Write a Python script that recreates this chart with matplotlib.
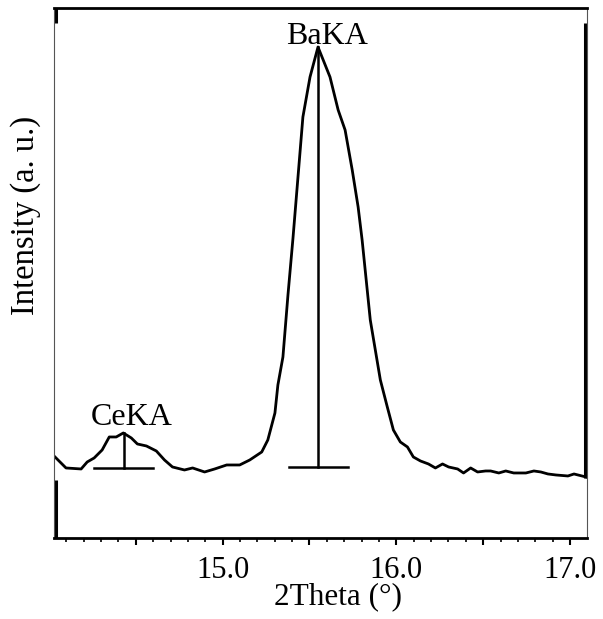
import matplotlib
matplotlib.use("Agg")
import matplotlib.pyplot as plt
from matplotlib.ticker import MultipleLocator, FuncFormatter

plt.rcParams['font.family'] = ['Liberation Serif', 'DejaVu Serif']

# XRF scan: intensity vs 2Theta
two_theta = [14.029, 14.098, 14.185, 14.220, 14.260, 14.306, 14.347, 14.387, 14.428,
             14.474, 14.509, 14.561, 14.618, 14.665, 14.711, 14.780, 14.827, 14.896,
             14.954, 15.023, 15.098, 15.156, 15.225, 15.260, 15.301, 15.318, 15.347,
             15.376, 15.405, 15.462, 15.503, 15.549, 15.618, 15.665, 15.705, 15.746,
             15.780, 15.803, 15.850, 15.908, 15.948, 15.983, 16.023, 16.064, 16.098,
             16.139, 16.185, 16.225, 16.266, 16.301, 16.353, 16.387, 16.428, 16.468,
             16.514, 16.543, 16.590, 16.630, 16.676, 16.746, 16.792, 16.832, 16.873,
             16.919, 16.988, 17.023, 17.092]
intensity = [82, 70, 69, 76, 80, 88, 101, 101, 105,
             100, 94, 92, 87, 78, 71, 68, 70, 66,
             69, 73, 73, 78, 86, 98, 125, 153, 181,
             243, 300, 421, 461, 491, 461, 428, 408, 368,
             331, 298, 218, 158, 131, 108, 96, 91, 81,
             77, 74, 70, 74, 71, 69, 65, 70, 66,
             67, 67, 65, 67, 65, 65, 67, 66, 64,
             63, 62, 64, 61]

# Identified lines: position, peak height, baseline level
line_names = ["CeKA", "BaKA"]
line_pos = [14.43, 15.55]
line_top = [105, 491]
line_base = [70, 71]
line_halfwidth = [0.17, 0.17]

fig = plt.figure(figsize=(6.03, 6.19), dpi=100)
ax = fig.add_axes([0.0896, 0.1309, 0.8839, 0.8562])

ax.plot(two_theta, intensity, color='black', lw=2.0, solid_joinstyle='round')

for name, x, top, base, hw in zip(line_names, line_pos, line_top, line_base, line_halfwidth):
    ax.plot([x, x], [base, top], color='black', lw=1.8)
    ax.plot([x - hw, x + hw], [base, base], color='black', lw=1.8)
    ax.annotate(name, xy=(x, top), xytext=(6, 6 if name == "CeKA" else 2),
                textcoords='offset points', ha='center', va='baseline', fontsize=23)

ax.set_xlim(14.029, 17.098)
ax.set_ylim(0, 530)

ax.xaxis.set_major_locator(MultipleLocator(0.5))
ax.xaxis.set_minor_locator(MultipleLocator(0.1))
ax.xaxis.set_major_formatter(FuncFormatter(lambda v, p: f"{v:.1f}" if abs(v - round(v)) < 1e-6 else ""))
ax.tick_params(axis='x', which='major', direction='out', length=5, width=1.5, labelsize=22, pad=8)
ax.tick_params(axis='x', which='minor', direction='out', length=3, width=1.2)
ax.set_yticks([])

ax.set_xlabel("2Theta (°)", fontsize=22.5)
ax.xaxis.set_label_coords(0.533, -0.083)
ax.set_ylabel("Intensity (a. u.)", fontsize=23.5)
ax.yaxis.set_label_coords(-0.025, 0.609)

# frame: thin outer box with heavier segments
for side in ['left', 'right']:
    ax.spines[side].set_linewidth(0.8)
    ax.spines[side].set_color('#555555')
for side in ['top', 'bottom']:
    ax.spines[side].set_linewidth(2.0)
kw = dict(transform=ax.transAxes, color='black', lw=2.2, clip_on=False, solid_capstyle='butt')
ax.plot([0.003, 0.003], [0.0, 0.109], **kw)
ax.plot([0.003, 0.003], [0.972, 1.0], **kw)
ax.plot([0.997, 0.997], [0.113, 0.972], **kw)

fig.savefig("out.png", dpi=100)
